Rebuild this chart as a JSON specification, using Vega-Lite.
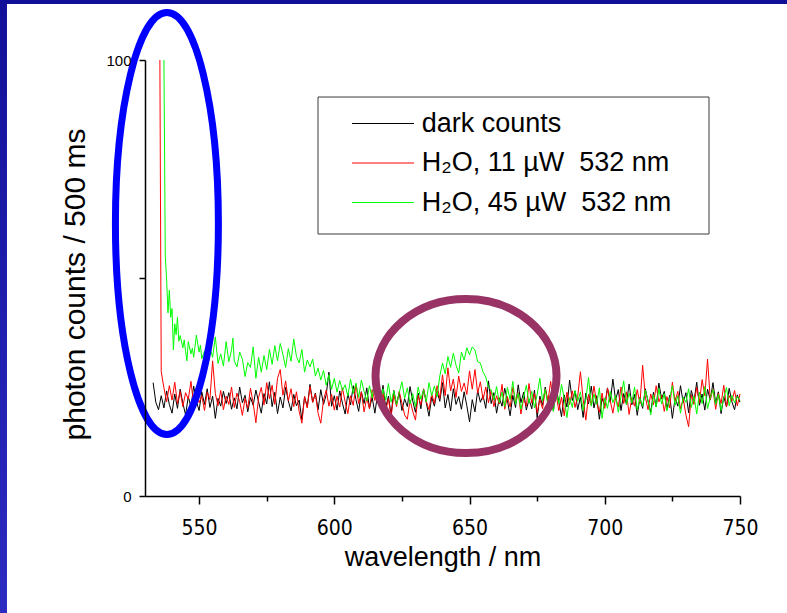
{
"$schema":"https://vega.github.io/schema/vega-lite/v6.json",
"width":595,"height":436,
"autosize":{"type":"none"},
"padding":{"left":145,"top":60,"right":47,"bottom":117},
"background":"white",
"config":{"view":{"stroke":null},"font":"Liberation Sans"},
"layer":[
{"data":{"values":[
{"w":533,"d":26.0},{"w":534,"d":21.5},{"w":535,"d":19.8},{"w":535.5,"r":100},{"w":536,"d":23.0,"r":28.5},
{"w":537,"d":20.2,"r":24.8,"g":100},{"w":537.5,"g":55},{"w":538,"d":24.1,"r":21.6,"g":49.5},{"w":538.5,"g":42.0},
{"w":539,"d":21.0,"r":25.3,"g":47.2},{"w":539.5,"g":41.0},{"w":540,"d":19.0,"r":22.0,"g":43.0},{"w":540.5,"g":33.5},
{"w":541,"d":23.4,"r":26.1,"g":39.5},{"w":541.5,"g":37.0},{"w":542,"d":20.1,"r":21.2,"g":41.0},{"w":542.5,"g":35.5},
{"w":543,"d":24.5,"r":24.0,"g":36.8},{"w":544,"d":21.3,"r":20.5,"g":34.0},{"w":544.5,"g":35.8},{"w":545,"d":18.6,"r":23.7,"g":33.2},
{"w":545.5,"g":31.0},{"w":546,"d":22.8,"r":22.2,"g":35.4},{"w":547,"d":20.4,"r":26.3,"g":32.6},{"w":547.5,"g":33.9},
{"w":548,"d":25.2,"r":20.8,"g":31.8},{"w":549,"d":21.7,"r":24.5,"g":36.9},{"w":550,"d":19.6,"r":21.4,"g":33.0},{"w":550.5,"g":34.6},
{"w":551,"d":23.9,"r":23.0,"g":31.5},{"w":552,"d":21.0,"r":19.6,"g":33.2},{"w":553,"d":24.6,"r":23.8,"g":31.0},{"w":554,"d":20.3,"r":22.1,"g":34.0},
{"w":555,"d":22.9,"r":31.0,"g":31.8},{"w":556,"d":17.8,"r":23.5,"g":36.5},{"w":557,"d":22.4,"r":20.7,"g":30.4},{"w":558,"d":20.6,"r":24.2,"g":32.6},
{"w":559,"d":24.0,"r":19.8,"g":29.8},{"w":560,"d":21.2,"r":22.9,"g":35.4},{"w":561,"d":23.7,"r":21.0,"g":30.8},{"w":562,"d":19.9,"r":25.0,"g":33.5},
{"w":562.5,"g":36.2},{"w":563,"d":22.5,"r":20.3,"g":31.0},{"w":564,"d":20.0,"r":23.6,"g":29.6},{"w":565,"d":25.0,"r":21.7,"g":33.0},
{"w":566,"d":21.4,"r":18.5,"g":31.4},{"w":567,"d":23.1,"r":22.4,"g":27.4},{"w":568,"d":19.3,"r":20.1,"g":30.6},{"w":569,"d":22.6,"r":24.7,"g":29.5},
{"w":570,"d":20.8,"r":21.3,"g":34.2},{"w":571,"d":24.3,"r":16.8,"g":27.0},{"w":572,"d":21.6,"r":22.6,"g":31.8},{"w":573,"d":19.0,"r":24.9,"g":28.4},
{"w":574,"d":23.5,"r":20.9,"g":32.2},{"w":575,"d":21.1,"r":26.0,"g":29.0},{"w":576,"d":26.2,"r":22.3,"g":33.6},{"w":577,"d":20.5,"r":25.4,"g":30.2},
{"w":578,"d":23.8,"r":21.0,"g":34.5},{"w":579,"d":18.9,"r":27.0,"g":31.0},{"w":580,"d":22.7,"r":29.0,"g":35.0},{"w":581,"d":20.2,"r":23.1,"g":32.4},
{"w":582,"d":24.9,"r":26.4,"g":29.5},{"w":583,"d":21.8,"r":21.8,"g":33.8},{"w":584,"d":19.5,"r":24.6,"g":30.9},{"w":585,"d":23.3,"r":20.5,"g":36.0},
{"w":586,"d":20.7,"r":23.9,"g":32.0},{"w":587,"d":22.0,"r":19.4,"g":30.5},{"w":588,"d":17.5,"r":16.7,"g":33.6},{"w":589,"d":22.8,"r":22.8,"g":28.4},
{"w":590,"d":20.4,"r":20.2,"g":31.2},{"w":591,"d":25.6,"r":25.1,"g":29.6},{"w":592,"d":21.5,"r":21.5,"g":31.4},{"w":593,"d":23.6,"r":23.4,"g":27.5},
{"w":594,"d":19.8,"r":19.0,"g":29.3},{"w":595,"d":24.4,"r":16.7,"g":26.6},{"w":596,"d":21.0,"r":22.0,"g":28.8},{"w":597,"d":23.2,"r":24.3,"g":25.4},
{"w":598,"d":28.4,"r":20.6,"g":27.8},{"w":599,"d":20.6,"r":23.3,"g":24.5},{"w":600,"d":23.0,"r":19.7,"g":27.0},{"w":601,"d":19.7,"r":22.9,"g":23.8},
{"w":602,"d":24.1,"r":20.4,"g":26.5},{"w":603,"d":21.3,"r":24.8,"g":24.2},{"w":604,"d":18.8,"r":21.6,"g":25.5},{"w":605,"d":23.5,"r":18.9,"g":22.9},
{"w":606,"d":20.9,"r":23.0,"g":26.8},{"w":607,"d":25.3,"r":20.8,"g":23.5},{"w":608,"d":22.1,"r":25.6,"g":25.9},{"w":609,"d":19.4,"r":21.2,"g":22.6},
{"w":610,"d":23.9,"r":23.9,"g":26.6},{"w":611,"d":21.2,"r":19.3,"g":24.0},{"w":612,"d":24.8,"r":22.5,"g":21.8},{"w":613,"d":20.1,"r":20.0,"g":25.3},
{"w":614,"d":22.6,"r":24.4,"g":22.5},{"w":615,"d":19.0,"r":21.9,"g":27.0},{"w":616,"d":23.4,"r":26.5,"g":23.2},{"w":617,"d":21.5,"r":20.7,"g":20.6},
{"w":618,"d":25.4,"r":23.6,"g":24.6},{"w":619,"d":20.3,"r":19.5,"g":22.0},{"w":620,"d":22.9,"r":22.3,"g":25.8},{"w":621,"d":18.7,"r":18.2,"g":21.5},
{"w":622,"d":24.2,"r":23.2,"g":24.1},{"w":623,"d":21.1,"r":20.5,"g":20.9},{"w":624,"d":23.7,"r":24.0,"g":23.7},{"w":625,"d":19.6,"r":21.3,"g":26.2},
{"w":626,"d":22.3,"r":18.6,"g":22.4},{"w":627,"d":20.5,"r":17.6,"g":24.8},{"w":628,"d":25.1,"r":22.0,"g":21.1},{"w":629,"d":21.8,"r":19.4,"g":23.5},
{"w":630,"d":19.2,"r":17.4,"g":20.4},{"w":631,"d":23.6,"r":23.1,"g":25.0},{"w":632,"d":20.0,"r":20.9,"g":22.2},{"w":633,"d":24.5,"r":24.6,"g":24.4},
{"w":634,"d":21.4,"r":21.7,"g":21.6},{"w":635,"d":18.3,"r":19.8,"g":26.0},{"w":636,"d":22.7,"r":23.5,"g":23.0},{"w":637,"d":20.6,"r":21.2,"g":25.2},
{"w":638,"d":24.0,"r":25.3,"g":22.8},{"w":639,"d":21.7,"r":22.4,"g":27.5},{"w":640,"d":26.0,"r":27.8,"g":30.5},{"w":641,"d":20.2,"r":23.0,"g":28.0},
{"w":642,"d":23.3,"r":29.4,"g":32.0},{"w":643,"d":19.5,"r":24.1,"g":29.5},{"w":644,"d":24.6,"r":26.8,"g":32.8},{"w":645,"d":21.0,"r":22.6,"g":30.0},
{"w":646,"d":22.8,"r":27.5,"g":28.2},{"w":647,"d":19.9,"r":24.0,"g":33.0},{"w":648,"d":23.9,"r":25.9,"g":31.2},{"w":649,"d":20.7,"r":23.3,"g":34.0},
{"w":650,"d":17.0,"r":28.7,"g":32.4},{"w":651,"d":22.1,"r":24.5,"g":34.2},{"w":652,"d":19.3,"r":29.0,"g":33.5},{"w":653,"d":24.2,"r":23.6,"g":30.8},
{"w":654,"d":21.5,"r":26.2,"g":30.5},{"w":655,"d":23.0,"r":22.1,"g":28.4},{"w":656,"d":20.1,"r":25.0,"g":27.3},{"w":657,"d":26.4,"r":21.4,"g":25.0},
{"w":658,"d":21.2,"r":24.3,"g":24.3},{"w":659,"d":23.7,"r":20.5,"g":22.0},{"w":660,"d":19.0,"r":23.0,"g":25.1},{"w":661,"d":22.5,"r":21.1,"g":21.4},
{"w":662,"d":20.6,"r":25.6,"g":23.8},{"w":663,"d":24.7,"r":19.9,"g":20.5},{"w":664,"d":21.9,"r":22.8,"g":24.9},{"w":665,"d":18.4,"r":20.4,"g":22.1},
{"w":666,"d":23.1,"r":24.9,"g":26.3},{"w":667,"d":20.3,"r":21.6,"g":21.0},{"w":668,"d":25.5,"r":23.7,"g":23.6},{"w":669,"d":21.4,"r":18.8,"g":19.9},
{"w":670,"d":23.8,"r":22.4,"g":22.7},{"w":671,"d":19.7,"r":20.6,"g":25.4},{"w":672,"d":22.2,"r":25.8,"g":21.3},{"w":673,"d":20.0,"r":21.3,"g":24.0},
{"w":674,"d":24.3,"r":23.5,"g":20.2},{"w":675,"d":17.9,"r":19.1,"g":23.3},{"w":676,"d":22.9,"r":22.2,"g":27.0},{"w":677,"d":20.8,"r":20.0,"g":21.8},
{"w":678,"d":25.0,"r":24.6,"g":24.5},{"w":679,"d":21.3,"r":21.8,"g":20.7},{"w":680,"d":23.4,"r":26.3,"g":22.9},{"w":681,"d":19.5,"r":20.9,"g":19.4},
{"w":682,"d":24.9,"r":23.4,"g":23.7},{"w":683,"d":21.6,"r":19.6,"g":21.2},{"w":684,"d":18.2,"r":22.7,"g":25.6},{"w":685,"d":23.2,"r":18.4,"g":22.4},
{"w":686,"d":20.4,"r":23.8,"g":18.0},{"w":687,"d":26.6,"r":21.0,"g":22.6},{"w":688,"d":21.9,"r":24.1,"g":20.3},{"w":689,"d":24.1,"r":20.3,"g":24.2},
{"w":690,"d":19.8,"r":22.9,"g":21.7},{"w":691,"d":22.7,"r":28.5,"g":23.9},{"w":692,"d":18.0,"r":22.2,"g":19.6},{"w":693,"d":23.6,"r":17.4,"g":22.1},
{"w":694,"d":21.1,"r":23.3,"g":27.2},{"w":695,"d":25.2,"r":20.8,"g":20.6},{"w":696,"d":20.2,"r":25.2,"g":23.4},{"w":697,"d":23.0,"r":21.5,"g":21.0},
{"w":698,"d":17.6,"r":19.2,"g":24.8},{"w":699,"d":22.4,"r":23.6,"g":17.8},{"w":700,"d":20.7,"r":20.1,"g":22.5},{"w":701,"d":24.8,"r":24.7,"g":20.1},
{"w":702,"d":21.5,"r":21.9,"g":24.0},{"w":703,"d":26.8,"r":19.0,"g":21.4},{"w":704,"d":22.0,"r":22.6,"g":23.1},{"w":705,"d":24.4,"r":20.4,"g":19.2},
{"w":706,"d":19.6,"r":25.0,"g":22.8},{"w":707,"d":23.5,"r":21.2,"g":26.4},{"w":708,"d":21.0,"r":23.9,"g":20.9},{"w":709,"d":25.7,"r":18.7,"g":23.6},
{"w":710,"d":20.9,"r":22.5,"g":21.3},{"w":711,"d":23.3,"r":20.6,"g":25.0},{"w":712,"d":18.5,"r":24.4,"g":19.7},{"w":713,"d":22.6,"r":21.1,"g":22.4},
{"w":714,"d":20.1,"r":30.0,"g":20.6},{"w":715,"d":24.6,"r":22.7,"g":24.3},{"w":716,"d":21.7,"r":19.8,"g":21.9},{"w":717,"d":19.2,"r":23.4,"g":18.6},
{"w":718,"d":23.8,"r":20.9,"g":23.2},{"w":719,"d":20.5,"r":25.3,"g":20.4},{"w":720,"d":25.9,"r":21.6,"g":24.7},{"w":721,"d":22.3,"r":23.1,"g":21.1},
{"w":722,"d":24.0,"r":19.4,"g":23.5},{"w":723,"d":19.9,"r":22.8,"g":19.5},{"w":724,"d":23.1,"r":20.2,"g":22.2},{"w":725,"d":17.8,"r":26.1,"g":25.3},
{"w":726,"d":22.5,"r":21.7,"g":20.8},{"w":727,"d":20.6,"r":24.0,"g":23.0},{"w":728,"d":25.3,"r":20.0,"g":19.0},{"w":729,"d":21.4,"r":22.4,"g":22.7},
{"w":730,"d":23.7,"r":18.6,"g":21.5},{"w":731,"d":19.1,"r":15.9,"g":24.6},{"w":732,"d":24.2,"r":23.2,"g":20.3},{"w":733,"d":21.8,"r":21.0,"g":22.9},
{"w":734,"d":26.1,"r":24.9,"g":18.8},{"w":735,"d":20.8,"r":21.4,"g":23.8},{"w":736,"d":23.4,"r":26.7,"g":21.2},{"w":737,"d":19.7,"r":23.0,"g":25.1},
{"w":738,"d":24.5,"r":31.4,"g":20.0},{"w":739,"d":22.0,"r":22.1,"g":22.6},{"w":740,"d":26.0,"r":24.5,"g":24.4},{"w":741,"d":21.3,"r":19.9,"g":21.0},
{"w":742,"d":23.9,"r":23.6,"g":23.3},{"w":743,"d":18.9,"r":21.2,"g":19.6},{"w":744,"d":22.8,"r":25.4,"g":22.5},{"w":745,"d":20.4,"r":20.5,"g":24.9},
{"w":746,"d":24.7,"r":23.0,"g":20.7},{"w":747,"d":21.6,"r":21.8,"g":23.1},{"w":748,"d":19.8,"r":24.2,"g":21.4},{"w":749,"d":23.2,"r":20.7,"g":22.8},
{"w":750,"d":21.5,"r":23.4,"g":21.9}
]},
 "transform":[{"fold":["d","r","g"],"as":["k","v"]},{"filter":"datum.v != null"}],
 "mark":{"type":"line","strokeWidth":1,"interpolate":"linear"},
 "encoding":{
  "x":{"field":"w","type":"quantitative","title":"wavelength / nm",
    "scale":{"domain":[530,750],"nice":false,"zero":false},
    "axis":{"values":[550,575,600,625,650,675,700,725,750],"labelExpr":"datum.value % 50 == 0 ? datum.label : ''",
      "tickSize":{"condition":{"test":"datum.value % 50 == 0","value":8},"value":5},
      "labelFont":"Liberation Sans Narrow, DejaVu Sans Condensed, Liberation Sans","labelFontSize":21,"labelColor":"black","labelPadding":13,
      "labelFlush":false,"labelOverlap":false,"tickColor":"black","tickWidth":1.5,"domainColor":"black","domainWidth":1.5,"grid":false,
      "titleFont":"Liberation Sans","titleFontSize":27,"titleFontWeight":"normal","titleColor":"black","titleY":61,"titleBaseline":"middle","zindex":1}},
  "y":{"field":"v","type":"quantitative","title":"photon counts / 500 ms",
    "scale":{"domain":[0,100],"nice":false},
    "axis":{"values":[0,50,100],"labelExpr":"datum.value == 50 ? '' : datum.label","tickSize":6,
      "labelFont":"Liberation Sans","labelFontSize":15,"labelPadding":8,"labelColor":"black","labelFlush":false,
      "tickColor":"black","tickWidth":1.5,"domainColor":"black","domainWidth":1.5,"grid":false,
      "titleFont":"Liberation Sans","titleFontSize":30,"titleFontWeight":"normal","titleColor":"black",
      "titleX":-70,"titleY":224,"titleBaseline":"middle","titleAlign":"center","titleAngle":270,"zindex":1}},
  "color":{"field":"k","type":"nominal",
    "scale":{"domain":["d","r","g"],"range":["#000000","#ff0000","#00ff00"]},
    "legend":{"title":null,"orient":"none","legendX":173,"legendY":37,"padding":13,
      "symbolType":"M-3.1,0L3.1,0","symbolSize":400,"symbolStrokeWidth":1,"symbolOffset":38.5,
      "labelOffset":25.2,"labelFont":"Liberation Sans","labelFontSize":27,"labelColor":"black","labelLimit":600,"rowPadding":11.5,
      "encode":{"symbols":{"update":{"stroke":{"scale":"color","field":"value"},"fill":{"value":"transparent"},"opacity":{"value":1}}}},
      "labelExpr":"datum.value == 'd' ? 'dark counts' : (datum.value == 'r' ? 'H\u2082O, 11 \u00b5W\u00a0 532 nm' : 'H\u2082O, 45 \u00b5W\u00a0 532 nm')"}}
 }},
{"data":{"values":[{}]},
 "mark":{"type":"rect","fill":"white","stroke":"#3a3a3a","strokeWidth":1},
 "encoding":{"x":{"datum":593.97,"type":"quantitative","scale":{"domain":[530,750],"nice":false,"zero":false}},"x2":{"datum":738.54},
   "y":{"datum":60.09,"type":"quantitative","scale":{"domain":[0,100],"nice":false}},"y2":{"datum":91.51}}},
{"data":{"values":[{}]},
 "mark":{"type":"point","shape":"M0,-1C0.1348,-1,0.244,-0.5523,0.244,0C0.244,0.5523,0.1348,1,0,1C-0.1348,1,-0.244,0.5523,-0.244,0C-0.244,-0.5523,-0.1348,-1,0,-1Z","size":178084,"filled":false,"fill":null,"stroke":"#0000ff","strokeWidth":7,"opacity":1},
 "encoding":{"x":{"datum":538.1,"type":"quantitative","scale":{"domain":[530,750],"nice":false,"zero":false}},
   "y":{"datum":62.5,"type":"quantitative","scale":{"domain":[0,100],"nice":false}}}},
{"data":{"values":[{}]},
 "mark":{"type":"point","shape":"M-1,0C-1,-0.47,-0.5523,-0.851,0,-0.851C0.5523,-0.851,1,-0.47,1,0C1,0.47,0.5523,0.851,0,0.851C-0.5523,0.851,-1,0.47,-1,0Z","size":32761,"filled":false,"fill":null,"stroke":"#993366","strokeWidth":8,"opacity":1},
 "encoding":{"x":{"datum":648.7,"type":"quantitative","scale":{"domain":[530,750],"nice":false,"zero":false}},
   "y":{"datum":27.5,"type":"quantitative","scale":{"domain":[0,100],"nice":false}}}},
{"data":{"values":[{}]},
 "mark":{"type":"rect","fill":{"gradient":"linear","x1":0,"y1":0,"x2":0,"y2":1,"stops":[{"offset":0,"color":"#110f98"},{"offset":1,"color":"#2c2cc1"}]}},
 "encoding":{"x":{"datum":470,"type":"quantitative","scale":{"domain":[530,750],"nice":false,"zero":false}},"x2":{"datum":478.97},
   "y":{"datum":-30,"type":"quantitative","scale":{"domain":[0,100],"nice":false}},"y2":{"datum":120}}},
{"data":{"values":[{}]},
 "mark":{"type":"rect","fill":"#110f98"},
 "encoding":{"x":{"datum":470,"type":"quantitative","scale":{"domain":[530,750],"nice":false,"zero":false}},"x2":{"datum":775},
   "y":{"datum":112.84,"type":"quantitative","scale":{"domain":[0,100],"nice":false}},"y2":{"datum":120}}}
]
}
